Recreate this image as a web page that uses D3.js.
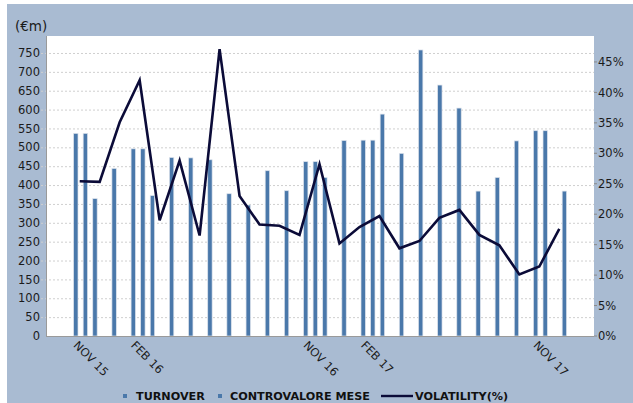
<!DOCTYPE html>
<html>
<head>
<meta charset="utf-8">
<script src="https://cdn.jsdelivr.net/npm/d3@7"></script>
<style>
  html, body { margin: 0; padding: 0; background: #ffffff; }
  svg { display: block; font-family: "DejaVu Sans", Verdana, sans-serif; }
</style>
</head>
<body>
<svg id="chart" width="633" height="403"></svg>
<script>
// ---- data ----
const months = ["NOV 15","DEC 15","JAN 16","FEB 16","MAR 16","APR 16","MAY 16","JUN 16","JUL 16","AUG 16","SEP 16","OCT 16",
                "NOV 16","DEC 16","JAN 17","FEB 17","MAR 17","APR 17","MAY 17","JUN 17","JUL 17","AUG 17","SEP 17","OCT 17","NOV 17","DEC 17"];
const turnover = [537, 364, 444, 496, 372, 473, 472, 467, 377, 347, 438, 385,
                  462, 420, 518, 519, 588, 484, 758, 665, 604, 384, 420, 517, 544];
const controvaloreMonths = ["NOV 15","FEB 16","NOV 16","FEB 17","NOV 17","DEC 17"];
const controvalore = [537, 496, 462, 519, 544, 384];
const volatility = [25.4, 25.3, 35.1, 42.0, 19.0, 28.8, 16.5, 47.1, 23.0, 18.3, 18.1, 16.6,
                    28.2, 15.2, 17.9, 19.7, 14.4, 15.6, 19.4, 20.7, 16.6, 14.9, 10.1, 11.4, 17.6];
const leftTicks = [0,50,100,150,200,250,300,350,400,450,500,550,600,650,700,750];
const rightTicks = [0,5,10,15,20,25,30,35,40,45];
const xTickLabels = ["NOV 15","FEB 16","NOV 16","FEB 17","NOV 17"];
const legendItems = ["TURNOVER","CONTROVALORE MESE","VOLATILITY(%)"];

// ---- layout ----
const svg = d3.select("#chart");
const plot = {left: 46, right: 594, top: 36, bottom: 336};
const barColor = "#4a78aa";
const lineColor = "#0b0b38";
const bg = "#a9bbd2";

svg.append("rect").attr("x", 7).attr("y", 4).attr("width", 626).attr("height", 399).attr("fill", bg);
svg.append("rect").attr("x", plot.left).attr("y", plot.top)
   .attr("width", plot.right - plot.left).attr("height", plot.bottom - plot.top).attr("fill", "#ffffff");

// scales
const monthIdx = d3.scaleOrdinal().domain(months).range(d3.range(months.length));
const xBar = d3.scaleLinear().domain([0, 25]).range([75.8, 554.8]);
const halfMonth = (xBar(1) - xBar(0)) / 2;
const xLine = d3.scalePoint().domain(months.slice(0, volatility.length)).range([79.7, 559.3]);
const yL = d3.scaleLinear().domain([0, 795]).range([plot.bottom, plot.top]);
const yR = d3.scaleLinear().domain([0, 49.26]).range([plot.bottom, plot.top]);

// gridlines
svg.append("g").selectAll("line").data(leftTicks.filter(d => d > 0)).join("line")
  .attr("x1", plot.left - 5).attr("x2", plot.right)
  .attr("y1", d => yL(d) + 0.5).attr("y2", d => yL(d) + 0.5)
  .attr("stroke", "#cfcfcf").attr("stroke-width", 1).attr("stroke-dasharray", "2,2");

// left axis labels
svg.append("g").selectAll("text").data(leftTicks).join("text")
  .attr("x", 40).attr("y", d => yL(d)).attr("dy", "0.36em")
  .attr("text-anchor", "end").attr("font-size", 11.5).attr("fill", "#1a1a1a")
  .text(d => d);

// right axis
svg.append("g").selectAll("line").data(rightTicks).join("line")
  .attr("x1", plot.right).attr("x2", plot.right + 3)
  .attr("y1", d => yR(d)).attr("y2", d => yR(d))
  .attr("stroke", "#8a8a8a").attr("stroke-width", 1);
svg.append("g").selectAll("text").data(rightTicks).join("text")
  .attr("x", 598).attr("y", d => yR(d)).attr("dy", "0.36em")
  .attr("text-anchor", "start").attr("font-size", 11.5).attr("fill", "#1a1a1a")
  .text(d => d + "%");

// unit label
svg.append("text").attr("x", 15).attr("y", 31).attr("font-size", 13.5).attr("fill", "#1a1a1a").text("(€m)");

// bars
const barW = 4.4;
svg.append("g").selectAll("rect").data(turnover).join("rect")
  .attr("x", (d, i) => xBar(i) - barW / 2)
  .attr("y", d => yL(d))
  .attr("width", barW)
  .attr("height", d => yL(0) - yL(d))
  .attr("fill", barColor).attr("stroke", "#dde3ec").attr("stroke-width", 0.7);
svg.append("g").selectAll("rect").data(controvalore).join("rect")
  .attr("x", (d, i) => xBar(monthIdx(controvaloreMonths[i])) + halfMonth - barW / 2)
  .attr("y", d => yL(d))
  .attr("width", barW)
  .attr("height", d => yL(0) - yL(d))
  .attr("fill", barColor).attr("stroke", "#dde3ec").attr("stroke-width", 0.7);

// axis lines
svg.append("line").attr("x1", plot.left + 0.5).attr("x2", plot.left + 0.5)
  .attr("y1", plot.top).attr("y2", plot.bottom).attr("stroke", "#9a9a9a");
svg.append("line").attr("x1", plot.left).attr("x2", plot.right)
  .attr("y1", plot.bottom + 0.5).attr("y2", plot.bottom + 0.5).attr("stroke", "#9a9a9a");

// volatility line
const line = d3.line().x((d, i) => xLine(months[i])).y(d => yR(d));
svg.append("path").datum(volatility).attr("d", line)
  .attr("fill", "none").attr("stroke", lineColor).attr("stroke-width", 2.6).attr("stroke-linejoin", "miter");

// x labels
svg.append("g").selectAll("text").data(xTickLabels).join("text")
  .attr("transform", d => `translate(${xBar(monthIdx(d)) - 3},${plot.bottom + 10}) rotate(45)`)
  .attr("font-size", 11.5).attr("fill", "#1a1a1a").attr("text-anchor", "start")
  .text(d => d);

// legend
const lg = svg.append("g").attr("font-size", 11.2).attr("font-weight", "bold").attr("fill", "#111");
lg.append("rect").attr("x", 123).attr("y", 394).attr("width", 4).attr("height", 4).attr("fill", barColor);
lg.append("text").attr("x", 136).attr("y", 400).text(legendItems[0]);
lg.append("rect").attr("x", 218).attr("y", 394).attr("width", 4).attr("height", 4).attr("fill", barColor);
lg.append("text").attr("x", 230).attr("y", 400).text(legendItems[1]);
lg.append("line").attr("x1", 381).attr("x2", 413).attr("y1", 396).attr("y2", 396)
  .attr("stroke", lineColor).attr("stroke-width", 2.4);
lg.append("text").attr("x", 415).attr("y", 400).text(legendItems[2]);
</script>
</body>
</html>
